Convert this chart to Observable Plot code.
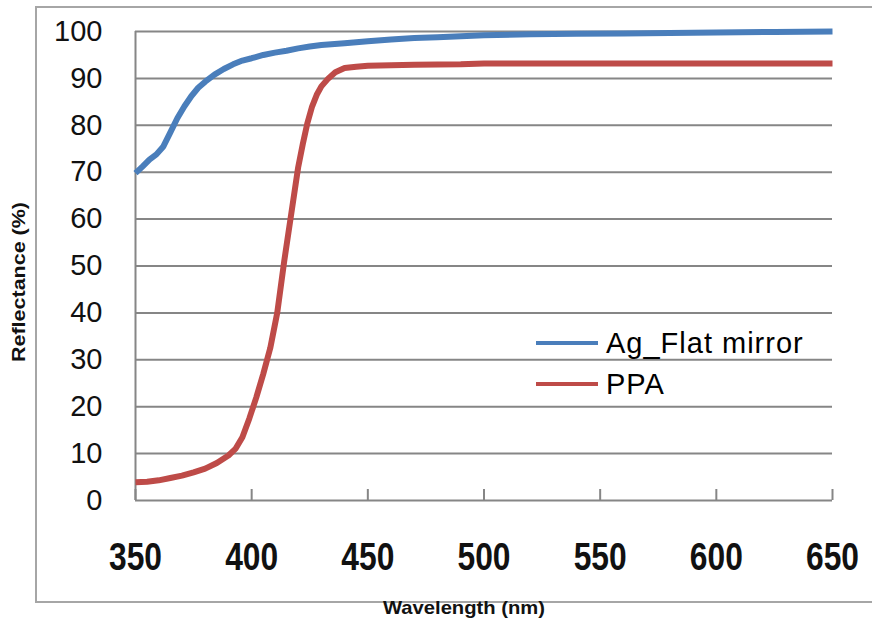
<!DOCTYPE html>
<html>
<head>
<meta charset="utf-8">
<script src="https://cdn.jsdelivr.net/npm/d3@7"></script>
<script src="https://cdn.jsdelivr.net/npm/@observablehq/plot@0.6"></script>
<style>
  html, body { margin: 0; padding: 0; background: #fff; }
  #wrap { position: relative; width: 872px; height: 627px; overflow: hidden; }
  #border { position: absolute; left: 35px; top: 6px; width: 860px; height: 593px; border: 2px solid #a6a6a6; box-sizing: content-box; }
  #chart { position: absolute; left: 0; top: 0; }
  .leg { position: absolute; font-family: Arial, "Liberation Sans", sans-serif; font-size: 29px; letter-spacing: 1px; color: #000; white-space: nowrap; }
  .sw { position: absolute; height: 4px; }
</style>
</head>
<body>
<div id="wrap">
  <div id="border"></div>
  <div id="chart"></div>
</div>
<script>
// Ag_Flat mirror
const agWavelength = [350,353,356,359,362,365,368,371,374,377,380,384,388,392,396,400,405,410,415,420,425,430,440,450,460,470,480,490,500,520,540,560,580,600,625,650];
const agReflectance = [69.8,71.2,72.7,73.8,75.5,78.5,81.5,84,86.2,88,89.3,90.8,92,93,93.8,94.3,95,95.5,95.9,96.4,96.8,97.1,97.5,97.9,98.3,98.6,98.8,99,99.2,99.4,99.5,99.6,99.7,99.8,99.9,100];
// PPA
const ppaWavelength = [350,355,360,365,370,375,380,385,390,393,396,399,402,405,408,411,414,417,420,422,424,426,428,430,433,436,440,445,450,460,470,490,500,550,600,650];
const ppaReflectance = [3.9,4.0,4.3,4.8,5.3,6.0,6.8,8.0,9.6,11,13.5,17.5,22,27,32.5,40,51,61,71,76,80.5,84,86.5,88.3,90,91.3,92.2,92.5,92.7,92.8,92.9,93,93.2,93.2,93.2,93.2];

const seriesNames = ["Ag_Flat mirror", "PPA"];
const seriesColors = ["#4a7ebb", "#be4b48"];
const xTicks = [350,400,450,500,550,600,650];
const yTicks = [0,10,20,30,40,50,60,70,80,90,100];
const xTitle = "Wavelength (nm)";
const yTitle = "Reflectance (%)";

const data = [
  ...agWavelength.map((w, i) => ({series: seriesNames[0], w, r: agReflectance[i]})),
  ...ppaWavelength.map((w, i) => ({series: seriesNames[1], w, r: ppaReflectance[i]}))
];

const grid = "#868686";
const sans = "Arial, 'Liberation Sans', sans-serif";
const chart = Plot.plot({
  width: 872,
  height: 627,
  marginLeft: 135,
  marginRight: 40,
  marginTop: 31,
  marginBottom: 127,
  style: {background: "transparent", overflow: "visible"},
  x: {domain: [350, 650]},
  y: {domain: [0, 100]},
  color: {domain: seriesNames, range: seriesColors},
  marks: [
    Plot.ruleY(yTicks, {stroke: grid, strokeWidth: 2}),
    Plot.ruleX([350], {stroke: grid, strokeWidth: 2}),
    Plot.axisX(xTicks, {tickSize: -11, stroke: grid, strokeWidth: 2, text: null, label: null}),
    Plot.axisX(xTicks, {tickSize: 0, tickPadding: 42, label: null, tickFormat: d => String(d),
      fontFamily: sans, fontWeight: "bold", fontSize: 39, fill: "#111", className: "xlab"}),
    Plot.axisY(yTicks, {tickSize: 0, tickPadding: 33, label: null, tickFormat: d => String(d),
      fontFamily: sans, fontSize: 29, fill: "#111"}),
    Plot.line(data, {x: "w", y: "r", z: "series", stroke: "series", strokeWidth: 6, strokeLinejoin: "round", strokeLinecap: "butt"}),
    Plot.text([xTitle], {frameAnchor: "bottom", dx: -20, dy: 107, textAnchor: "middle", lineAnchor: "middle",
      fontFamily: sans, fontWeight: "bold", fontSize: 19, fill: "#111", className: "xtitle"}),
    Plot.text([yTitle], {frameAnchor: "left", dx: -117, dy: 16, rotate: -90, textAnchor: "middle", lineAnchor: "middle",
      fontFamily: sans, fontWeight: "bold", fontSize: 19, fill: "#111", className: "ytitle"})
  ]
});
document.getElementById("chart").appendChild(chart);

// condensed look of the x tick labels and stretched axis titles
d3.select(chart).selectAll(".xlab text").attr("textLength", 53).attr("lengthAdjust", "spacingAndGlyphs");
d3.select(chart).selectAll(".xtitle text").attr("textLength", 162).attr("lengthAdjust", "spacingAndGlyphs");
d3.select(chart).selectAll(".ytitle text").attr("textLength", 160).attr("lengthAdjust", "spacingAndGlyphs");

// legend
const wrap = document.getElementById("wrap");
const legTop = [343, 384];
seriesNames.forEach((name, i) => {
  const sw = document.createElement("div");
  sw.className = "sw";
  sw.style.left = "536px";
  sw.style.width = "62px";
  sw.style.top = (legTop[i] - 2) + "px";
  sw.style.background = seriesColors[i];
  wrap.appendChild(sw);
  const t = document.createElement("div");
  t.className = "leg";
  t.style.left = "606px";
  t.style.top = (legTop[i] - 17) + "px";
  t.style.lineHeight = "34px";
  t.textContent = name;
  wrap.appendChild(t);
});
</script>
</body>
</html>
